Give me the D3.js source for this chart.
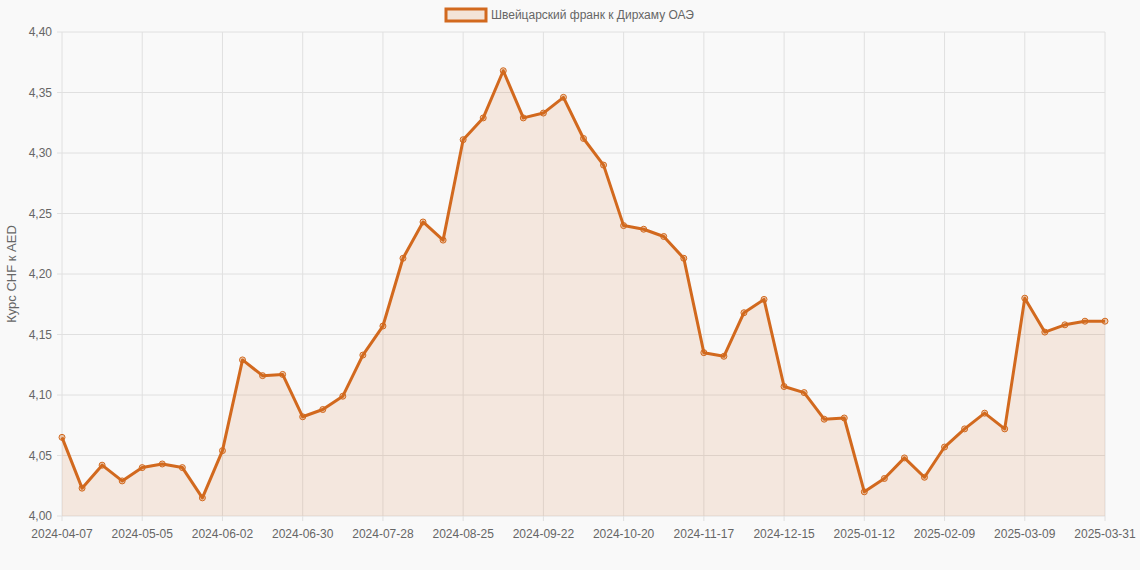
<!DOCTYPE html>
<html><head><meta charset="utf-8">
<script src="https://cdn.jsdelivr.net/npm/d3@7"></script>
<style>
body{margin:0;background:#f9f9f9;font-family:"Liberation Sans",Arial,sans-serif;}
</style></head>
<body><svg id="chart" width="1140" height="570"></svg>
<script>
// weekly dates, last one shown as 2025-03-31
var dates = [];
var start = new Date(Date.UTC(2024, 3, 7));
for (var i = 0; i < 52; i++) {
  var d = new Date(start.getTime() + i * 7 * 864e5);
  dates.push(d.toISOString().slice(0, 10));
}
dates.push("2025-03-31");

var rates = [4.065, 4.023, 4.042, 4.029, 4.040, 4.043, 4.040, 4.015, 4.054, 4.129,
  4.116, 4.117, 4.082, 4.088, 4.099, 4.133, 4.157, 4.213, 4.243, 4.228,
  4.311, 4.329, 4.368, 4.329, 4.333, 4.346, 4.312, 4.290, 4.240, 4.237,
  4.231, 4.213, 4.135, 4.132, 4.168, 4.179, 4.107, 4.102, 4.080, 4.081,
  4.020, 4.031, 4.048, 4.032, 4.057, 4.072, 4.085, 4.072, 4.180, 4.152,
  4.158, 4.161, 4.161];

var yTicks = [4.00, 4.05, 4.10, 4.15, 4.20, 4.25, 4.30, 4.35, 4.40];
var seriesName = "Швейцарский франк к Дирхаму ОАЭ";
var yTitle = "Курс CHF к AED";

var color = "#d2691e";
var svg = d3.select("#chart");
var padL = 62, padR = 1105, padT = 32, padB = 516;

var x = d3.scalePoint().domain(dates).range([padL, padR]);
var y = d3.scaleLinear().domain([4.00, 4.40]).range([padB, padT]);
var fmt = function (v) { return v.toFixed(2).replace(".", ","); };

// grid
svg.append("g").selectAll("line").data(yTicks).join("line")
  .attr("x1", padL - 5).attr("x2", padR).attr("y1", y).attr("y2", y)
  .attr("stroke", "#e0e0e0");
var shown = dates.filter(function (d, i) { return i % 4 === 0 || i === dates.length - 1; });
svg.append("g").selectAll("line").data(shown).join("line")
  .attr("x1", x).attr("x2", x).attr("y1", padT).attr("y2", padB + 5)
  .attr("stroke", "#e0e0e0");

// axes labels
svg.append("g").selectAll("text").data(yTicks).join("text")
  .attr("x", padL - 10).attr("y", function (d) { return y(d) + 4; })
  .attr("text-anchor", "end").attr("font-size", 12).attr("fill", "#666").text(fmt);
svg.append("g").selectAll("text").data(shown).join("text")
  .attr("x", x).attr("y", padB + 22)
  .attr("text-anchor", "middle").attr("font-size", 12).attr("fill", "#666").text(function (d) { return d; });

svg.append("text").attr("transform", "translate(16," + ((padT + padB) / 2) + ") rotate(-90)")
  .attr("text-anchor", "middle").attr("font-size", 13).attr("fill", "#666").text(yTitle);

// area + line
var area = d3.area().x(function (d, i) { return x(dates[i]); }).y0(padB).y1(function (d) { return y(d); });
var line = d3.line().x(function (d, i) { return x(dates[i]); }).y(function (d) { return y(d); });
svg.append("path").datum(rates).attr("d", area).attr("fill", "rgba(210,105,30,0.12)");
svg.append("path").datum(rates).attr("d", line).attr("fill", "none")
  .attr("stroke", color).attr("stroke-width", 3).attr("stroke-linejoin", "round");
svg.append("g").selectAll("circle").data(rates).join("circle")
  .attr("cx", function (d, i) { return x(dates[i]); }).attr("cy", y).attr("r", 3)
  .attr("fill", "rgba(210,105,30,0.3)").attr("stroke", color).attr("stroke-width", 1);

// legend
var lg = svg.append("g");
lg.append("text").attr("x", 491).attr("y", 19).attr("font-size", 12).attr("fill", "#666").text(seriesName);
lg.append("rect").attr("x", 446).attr("y", 9).attr("width", 40).attr("height", 12)
  .attr("fill", "rgba(210,105,30,0.15)").attr("stroke", color).attr("stroke-width", 3);
</script></body></html>
